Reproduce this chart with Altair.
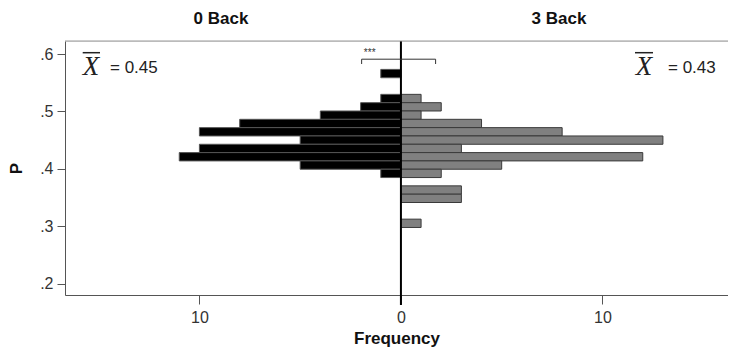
import altair as alt
import pandas as pd

# ---- data ----
bin_lower = [0.5587, 0.5152, 0.5007, 0.4862, 0.4717, 0.4572, 0.4427,
             0.4282, 0.4137, 0.3992, 0.3847, 0.3557, 0.3412, 0.2977]
bin_width = 0.0145
back0_freq = [1, 1, 2, 4, 8, 10, 5, 10, 11, 5, 1, 0, 0, 0]
back3_freq = [0, 1, 2, 1, 4, 8, 13, 3, 12, 5, 2, 3, 3, 1]
group_titles = ["0 Back", "3 Back"]
group_means = ["= 0.45", "= 0.43"]
x_ticks = [-10, 0, 10]
y_ticks = [0.2, 0.3, 0.4, 0.5, 0.6]
bracket_x = [-1.95, 1.72]
bracket_y = [0.591, 0.5826]
sig_label = "***"
sig_pos = [-1.55, 0.5965]

W, H = 663, 254
SANS = "Liberation Sans, Arial, sans-serif"

bins = pd.DataFrame({
    "lo": bin_lower,
    "hi": [b + bin_width for b in bin_lower],
    "f0": [-f for f in back0_freq],
    "f3": back3_freq,
    "zero": [0] * len(bin_lower),
})

xscale = alt.Scale(domain=[-16.67, 16.23], nice=False, zero=False)
yscale = alt.Scale(domain=[0.18, 0.6227], nice=False, zero=False)

xaxis = alt.Axis(values=x_ticks, labelExpr="abs(datum.value)", title="Frequency",
                 grid=False, tickSize=9, labelPadding=5, labelFont=SANS, labelFontSize=16,
                 labelColor="#333", titleFont=SANS, titleFontSize=17, titleFontWeight="bold",
                 titleColor="#111", titlePadding=5, domainColor="#555", tickColor="#555")
yaxis = alt.Axis(values=y_ticks, labelExpr="substring(format(datum.value, '.1f'), 1)",
                 title="P", grid=False, tickSize=8, labelPadding=4, labelFont=SANS,
                 labelFontSize=16, labelColor="#333", titleFont=SANS, titleFontSize=17,
                 titleFontWeight="bold", titleColor="#111", titlePadding=14,
                 titleAngle=-90, domainColor="#555", tickColor="#555")


def X(field):
    return alt.X(field, type="quantitative", scale=xscale, axis=xaxis)


def Y(field):
    return alt.Y(field, type="quantitative", scale=yscale, axis=yaxis)


base = alt.Chart(bins)

left = base.transform_filter("datum.f0 < 0").mark_bar(
    color="black", stroke="#555", strokeWidth=1).encode(
    x=X("f0"), x2="zero", y=Y("lo"), y2="hi")

right = base.transform_filter("datum.f3 > 0").mark_bar(
    color="#808080", stroke="#3a3a3a", strokeWidth=1).encode(
    x=X("f3"), x2="zero", y=Y("lo"), y2="hi")

zero_df = pd.DataFrame({"z": [0]})
zero_line = alt.Chart(zero_df).mark_rule(color="black", strokeWidth=2).encode(
    x=X("z"), y=alt.value(0), y2=alt.value(H + 10))

top_border = alt.Chart(zero_df).mark_rule(color="#999", strokeWidth=1).encode(
    x=alt.value(0), x2=alt.value(W), y=alt.value(0))

# significance bracket
br_h = pd.DataFrame({"x1": [bracket_x[0]], "x2": [bracket_x[1]], "y": [bracket_y[0]]})
br_v = pd.DataFrame({"x": bracket_x, "y1": [bracket_y[0]] * 2, "y2": [bracket_y[1]] * 2})
bracket_h = alt.Chart(br_h).mark_rule(color="#333", strokeWidth=1).encode(
    x=X("x1"), x2="x2", y=Y("y"))
bracket_v = alt.Chart(br_v).mark_rule(color="#333", strokeWidth=1).encode(
    x=X("x"), y=Y("y1"), y2="y2")
sig = alt.Chart(pd.DataFrame({"x": [sig_pos[0]], "y": [sig_pos[1]], "t": [sig_label]})).mark_text(
    font=SANS, fontSize=10, color="#333", align="center", baseline="alphabetic").encode(
    x=X("x"), y=Y("y"), text="t:N")

# group titles
titles_df = pd.DataFrame({"t": group_titles, "px": [156, 494]})
titles = alt.Chart(titles_df).mark_text(
    font=SANS, fontSize=17, fontWeight="bold", color="#111", align="center",
    baseline="middle").encode(x=alt.X("px:Q", scale=None), y=alt.value(-22), text="t:N")

# mean labels
xbar_df = pd.DataFrame({"px": [26, 579], "t": ["X", "X"]})
xbar = alt.Chart(xbar_df).mark_text(
    font="Liberation Serif, Times New Roman, serif", fontStyle="italic", fontSize=27,
    color="#222", align="center", baseline="alphabetic").encode(
    x=alt.X("px:Q", scale=None), y=alt.value(34), text="t:N")
over_df = pd.DataFrame({"a": [17.7, 570], "b": [35, 588]})
overline = alt.Chart(over_df).mark_rule(color="#222", strokeWidth=1.5).encode(
    x=alt.X("a:Q", scale=None), x2="b:Q", y=alt.value(11.7))
mean_df = pd.DataFrame({"px": [45, 603], "t": group_means})
means = alt.Chart(mean_df).mark_text(
    font=SANS, fontSize=17, color="#222", align="left", baseline="middle").encode(
    x=alt.X("px:Q", scale=None), y=alt.value(26.5), text="t:N")

chart = alt.layer(
    left, right, zero_line, top_border, bracket_h, bracket_v, sig,
    titles, xbar, overline, means
).properties(
    width=W, height=H,
    autosize=alt.AutoSizeParams(type="none"),
    padding={"left": 57, "top": 33, "right": 0, "bottom": 53},
).configure_view(stroke="transparent", strokeWidth=0).configure(background="white")

chart.save("out.html", embed_options={"renderer": "svg", "actions": False})
